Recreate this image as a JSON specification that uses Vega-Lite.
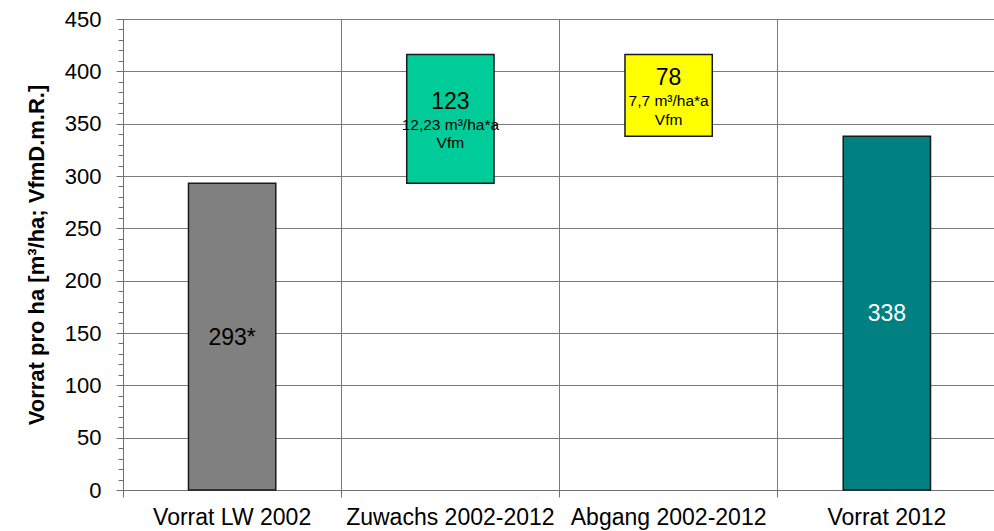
{
  "$schema": "https://vega.github.io/schema/vega-lite/v6.json",
  "width": 873,
  "height": 471,
  "autosize": "none",
  "padding": {"left": 123, "top": 19, "right": 0, "bottom": 41},
  "background": "white",
  "config": {
    "view": {"stroke": null},
    "font": "Liberation Sans",
    "axis": {"labelFont": "Liberation Sans", "titleFont": "Liberation Sans"}
  },
  "data": {
    "values": [
      {"cat": "Vorrat LW 2002", "start": 0, "end": 293, "label": "293*", "note": null},
      {"cat": "Zuwachs 2002-2012", "start": 293, "end": 416, "label": "123", "note": "12,23 m³/ha*a\nVfm"},
      {"cat": "Abgang 2002-2012", "start": 338, "end": 416, "label": "78", "note": "7,7 m³/ha*a\nVfm"},
      {"cat": "Vorrat 2012", "start": 0, "end": 338, "label": "338", "note": null}
    ]
  },
  "transform": [{"calculate": "(datum.start + datum.end) / 2", "as": "mid"}],
  "encoding": {
    "x": {
      "field": "cat",
      "type": "nominal",
      "sort": null,
      "scale": {"paddingInner": 0, "paddingOuter": 0},
      "axis": {
        "title": null,
        "labelAngle": 0,
        "bandPosition": 0,
        "labelFontSize": 23,
        "labelColor": "black",
        "labelLimit": 0,
        "labelPadding": 9,
        "tickSize": 7,
        "tickColor": "#707070",
        "domainColor": "#707070",
        "grid": true,
        "gridColor": "#7a7a7a",
        "gridWidth": 1
      }
    },
    "y": {
      "field": "start",
      "type": "quantitative",
      "scale": {"domain": [0, 450], "nice": false},
      "axis": {
        "title": "Vorrat pro ha [m³/ha; VfmD.m.R.]",
        "titleFontSize": 22,
        "titleFontWeight": "bold",
        "titleColor": "black",
        "titlePadding": 16,
        "values": [0,10,20,30,40,50,60,70,80,90,100,110,120,130,140,150,160,170,180,190,200,210,220,230,240,250,260,270,280,290,300,310,320,330,340,350,360,370,380,390,400,410,420,430,440,450],
        "labelExpr": "datum.value % 50 == 0 ? datum.label : ''",
        "labelFontSize": 22,
        "labelColor": "black",
        "labelPadding": 15,
        "tickSize": {"condition": {"test": "datum.value % 50 == 0", "value": 7}, "value": 5},
        "tickColor": "#707070",
        "domainColor": "#707070",
        "grid": true,
        "gridColor": "#7a7a7a",
        "gridWidth": 1,
        "gridOpacity": {"condition": {"test": "datum.value % 50 == 0", "value": 1}, "value": 0}
      }
    }
  },
  "layer": [
    {
      "mark": {"type": "bar", "width": {"band": 0.4}, "stroke": "#1a1a1a", "strokeWidth": 1.5},
      "encoding": {
        "y2": {"field": "end"},
        "color": {
          "field": "cat",
          "type": "nominal",
          "scale": {
            "domain": ["Vorrat LW 2002", "Zuwachs 2002-2012", "Abgang 2002-2012", "Vorrat 2012"],
            "range": ["#808080", "#00CC99", "#FFFF00", "#008080"]
          },
          "legend": null
        }
      }
    },
    {
      "transform": [{"filter": "datum.start == 0"}],
      "mark": {"type": "text", "fontSize": 23, "baseline": "middle", "align": "center", "dy": 1},
      "encoding": {
        "y": {"field": "mid", "type": "quantitative"},
        "text": {"field": "label"},
        "color": {"condition": {"test": "datum.cat === 'Vorrat 2012'", "value": "white"}, "value": "black"}
      }
    },
    {
      "transform": [{"filter": "datum.start > 0"}],
      "mark": {"type": "text", "fontSize": 23, "baseline": "middle", "align": "center", "dy": -17, "color": "black"},
      "encoding": {
        "y": {"field": "mid", "type": "quantitative"},
        "text": {"field": "label"}
      }
    },
    {
      "transform": [{"filter": "datum.note != null"}],
      "mark": {"type": "text", "fontSize": 15.5, "baseline": "alphabetic", "align": "center", "dy": 11, "lineBreak": "\n", "lineHeight": 18.5, "color": "black"},
      "encoding": {
        "y": {"field": "mid", "type": "quantitative"},
        "text": {"field": "note"}
      }
    }
  ]
}
